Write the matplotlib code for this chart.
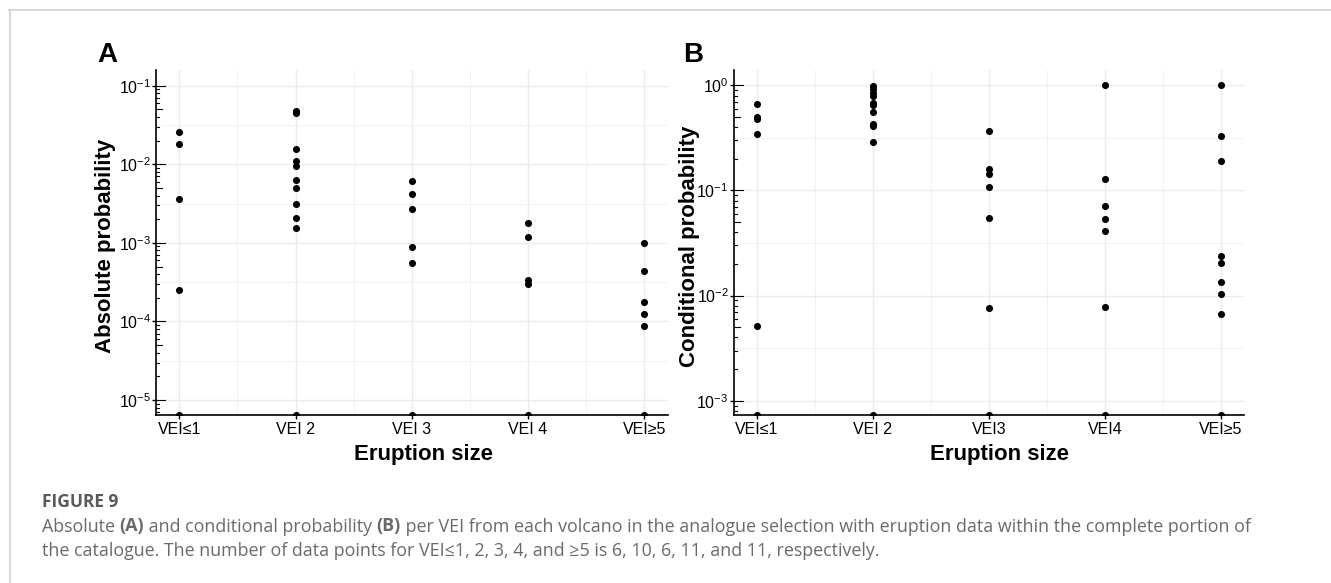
import numpy as np
import matplotlib
matplotlib.use("Agg")
import matplotlib.pyplot as plt
from matplotlib.lines import Line2D

# absolute probability per VEI class (0 = no eruptions of that size)
cats_abs = ["VEI≤1", "VEI 2", "VEI 3", "VEI 4", "VEI≥5"]
abs_vei1 = [0.0254, 0.0181, 0.0036, 0.00025, 0]
abs_vei2 = [0.0483, 0.0447, 0.0156, 0.0110, 0.0095, 0.0063, 0.0050, 0.00315, 0.00205, 0.00156, 0]
abs_vei3 = [0.00615, 0.00413, 0.00267, 0.00089, 0.00056, 0]
abs_vei4 = [0.00181, 0.00119, 0.00034, 0.00030, 0]
abs_vei5 = [0.00101, 0.000434, 0.000176, 0.000126, 0.0000873, 0]

# conditional probability per VEI class
cats_cond = ["VEI≤1", "VEI 2", "VEI3", "VEI4", "VEI≥5"]
cond_vei1 = [0.664, 0.504, 0.475, 0.344, 0.00513, 0]
cond_vei2 = [0.985, 0.916, 0.839, 0.791, 0.675, 0.65, 0.561, 0.428, 0.413, 0.287, 0]
cond_vei3 = [0.365, 0.159, 0.143, 0.108, 0.0543, 0.0076, 0]
cond_vei4 = [1.0, 0.129, 0.0706, 0.0539, 0.0414, 0.00783, 0]
cond_vei5 = [1.0, 0.332, 0.189, 0.0239, 0.0204, 0.0136, 0.0103, 0.00662, 0]

W, H = 1331, 583
plt.rcParams["font.family"] = ["Liberation Sans", "DejaVu Sans"]
plt.rcParams["mathtext.fontset"] = "custom"
plt.rcParams["mathtext.rm"] = "Liberation Sans"
plt.rcParams["mathtext.default"] = "regular"

fig = plt.figure(figsize=(W / 100, H / 100), dpi=100)


def px_rect(left, right, top, bottom):
    return [left / W, 1 - bottom / H, (right - left) / W, (bottom - top) / H]


def draw_panel(ax, cats, groups, ylog, ylabel, letter, letter_x, ylabel_x, xtitle_x):
    ymin, ymax = 10 ** ylog[0], 10 ** ylog[1]
    xs = np.arange(1, len(cats) + 1)
    for x, vals in zip(xs, groups):
        vals = np.asarray(vals, dtype=float)
        vals = np.where(vals > 0, vals, ymin)   # zeros sit on the floor
        ax.scatter(np.full(len(vals), x), vals, s=26, color="black",
                   linewidths=0, zorder=3)

    ax.set_yscale("log")
    ax.set_ylim(ymin, ymax)
    ax.set_xlim(0.8, len(cats) + 0.2)

    lo, hi = int(np.floor(ylog[0])), int(np.ceil(ylog[1]))
    decades = [10.0 ** d for d in range(lo, hi + 1) if ylog[0] <= d <= ylog[1]]
    halves = [10.0 ** (d + 0.5) for d in range(lo, hi) if ylog[0] <= d + 0.5 <= ylog[1]]
    ax.set_yticks(decades)
    ax.set_yticks(halves, minor=True)
    ax.set_xticks(xs)
    ax.set_xticklabels(cats)
    ax.set_xticks(xs[:-1] + 0.5, minor=True)
    ax.yaxis.set_minor_formatter(plt.NullFormatter())

    ax.grid(which="major", color="#ebebeb", lw=1.0)
    ax.grid(which="minor", color="#f2f2f2", lw=0.7)
    ax.set_axisbelow(True)

    for s in ["top", "right"]:
        ax.spines[s].set_visible(False)
    for s in ["left", "bottom"]:
        ax.spines[s].set_linewidth(1.2)
        ax.spines[s].set_zorder(4)

    ax.tick_params(which="minor", length=0)
    ax.tick_params(axis="x", which="major", direction="out", length=3, width=1,
                   labelsize=11.5, pad=2.5)
    ax.tick_params(axis="y", which="major", direction="out", length=3, width=1,
                   labelsize=11.5, pad=0.5)

    # log tick marks along the inside of the y axis
    axw = ax.get_position().width * W
    ytr = ax.get_yaxis_transform()
    for d in range(lo, hi + 1):
        for k in range(1, 10):
            y = k * 10.0 ** d
            if not (ymin <= y <= ymax):
                continue
            ln = 9 if k == 1 else (6 if k == 5 else 3)
            ax.add_line(Line2D([0, ln / axw], [y, y], transform=ytr,
                               color="black", lw=0.8, clip_on=False, zorder=4))

    fig.text(letter_x / W, 1 - 62 / H, letter, fontsize=20, fontweight="bold",
             ha="left", va="baseline")
    fig.text(ylabel_x / W, 1 - 246 / H, ylabel, rotation=90, fontsize=16,
             fontweight="bold", ha="center", va="center")
    fig.text(xtitle_x / W, 1 - 460 / H, "Eruption size", fontsize=16,
             fontweight="bold", ha="center", va="baseline")


axA = fig.add_axes(px_rect(156, 667.5, 70, 414.7))
draw_panel(axA, cats_abs, [abs_vei1, abs_vei2, abs_vei3, abs_vei4, abs_vei5],
           (-5.187, -0.8), "Absolute probability", "A", 97, 105, 424)

axB = fig.add_axes(px_rect(733.6, 1244, 70, 414.7))
draw_panel(axB, cats_cond, [cond_vei1, cond_vei2, cond_vei3, cond_vei4, cond_vei5],
           (-3.133, 0.146), "Conditional probability", "B", 683, 689, 1000)

# page frame
fig.add_artist(Line2D([9 / W, 1], [1 - 9.5 / H] * 2, transform=fig.transFigure,
                      color="#d9d9d9", lw=1.5))
fig.add_artist(Line2D([9.5 / W] * 2, [0, 1 - 9.5 / H], transform=fig.transFigure,
                      color="#d9d9d9", lw=1.5))

# caption
CAP = ["Open Sans", "DejaVu Sans"]
CAP_SIZE = 12.9
CAP_COLOR = "#6a6a6a"
fig.text(41.5 / W, 1 - 507 / H, "FIGURE 9", family=CAP, fontsize=12.5,
         fontweight="bold", color="#595959", va="baseline")

parts1 = [("Absolute ", False), ("(A)", True), (" and conditional probability ", False),
          ("(B)", True),
          (" per VEI from each volcano in the analogue selection with eruption data "
           "within the complete portion of", False)]
line2 = ("the catalogue. The number of data points for VEI≤1, 2, 3, 4, and ≥5 is "
         "6, 10, 6, 11, and 11, respectively.")

# first line mixes weights, so place it piece by piece
renderer = fig.canvas.get_renderer()
x_px = 41.5
for text, bold in parts1:
    t = fig.text(x_px / W, 1 - 531.5 / H, text, family=CAP, fontsize=CAP_SIZE,
                 color=CAP_COLOR, fontweight="bold" if bold else "normal",
                 va="baseline")
    x_px += t.get_window_extent(renderer).width

fig.text(41.5 / W, 1 - 556 / H, line2, family=CAP, fontsize=CAP_SIZE,
         color=CAP_COLOR, va="baseline")

fig.savefig("out.png", dpi=100)
